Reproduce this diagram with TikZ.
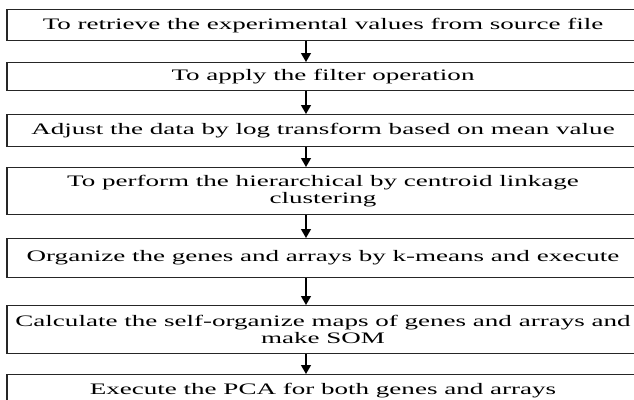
\documentclass[tikz,border=0pt]{standalone}
\usepackage{fontspec}
\setmainfont[FakeStretch=1.69]{Liberation Serif}
\usetikzlibrary{arrows.meta}
\begin{document}
\begin{tikzpicture}[x=1pt,y=-1pt,
  stepbox/.style={draw=black!85,line width=1.3pt,minimum width=632pt,inner sep=0pt,
    align=center,font=\fontsize{16}{17}\selectfont,anchor=north},
  arr/.style={line width=1.3pt,-{Triangle[width=10pt,length=9pt]}}]
\useasboundingbox (0,0) rectangle (634,399);
\clip (0,0) rectangle (634,399);
\coordinate (ax) at (306,0);
\node[stepbox,minimum height=31pt] (b1) at (323,9) {To retrieve the experimental values from source file};
\node[stepbox,minimum height=28pt] (b2) at (323,62) {To apply the filter operation};
\node[stepbox,minimum height=32pt] (b3) at (323,114) {Adjust the data by log transform based on mean value};
\node[stepbox,minimum height=47pt] (b4) at (323,167) {To perform the hierarchical by centroid linkage\\clustering};
\node[stepbox,minimum height=39pt] (b5) at (323,238) {Organize the genes and arrays by k-means and execute};
\node[stepbox,minimum height=48pt] (b6) at (323,305) {Calculate the self-organize maps of genes and arrays and\\make SOM};
\node[stepbox,minimum height=31pt] (b7) at (323,374) {Execute the PCA for both genes and arrays};
\draw[arr] (b1.south -| ax) -- (b2.north -| ax);
\draw[arr] (b2.south -| ax) -- (b3.north -| ax);
\draw[arr] (b3.south -| ax) -- (b4.north -| ax);
\draw[arr] (b4.south -| ax) -- (b5.north -| ax);
\draw[arr] (b5.south -| ax) -- (b6.north -| ax);
\draw[arr] (b6.south -| ax) -- (b7.north -| ax);
\end{tikzpicture}
\end{document}
